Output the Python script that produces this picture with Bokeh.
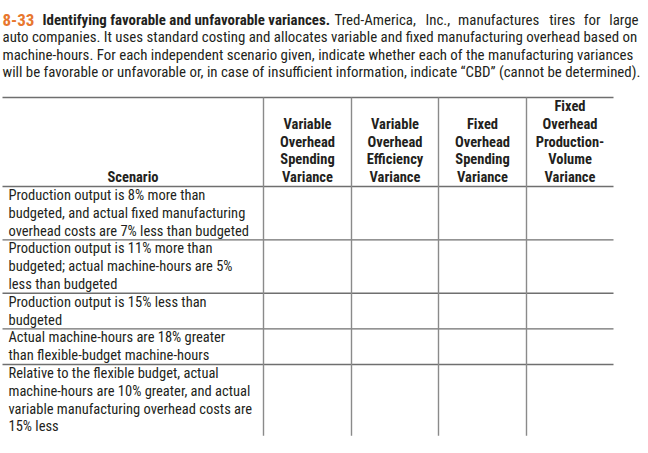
from bokeh.plotting import figure
from bokeh.models import ColumnDataSource, Range1d
from bokeh.core.properties import value
from bokeh.embed import file_html
from bokeh.resources import INLINE

# ---------------- data ----------------
problem_number = "8-33"
problem_title = "Identifying favorable and unfavorable variances."
title_rest_first = "Tred-America, Inc., manufactures tires for large"
title_lines = [
    "auto companies. It uses standard costing and allocates variable and fixed manufacturing overhead based on",
    "machine-hours. For each independent scenario given, indicate whether each of the manufacturing variances",
    "will be favorable or unfavorable or, in case of insufficient information, indicate \u201cCBD\u201d (cannot be determined).",
]
scenario_header = "Scenario"
column_headers = [
    ["Variable", "Overhead", "Spending", "Variance"],
    ["Variable", "Overhead", "Efficiency", "Variance"],
    ["Fixed", "Overhead", "Spending", "Variance"],
    ["Fixed", "Overhead", "Production-", "Volume", "Variance"],
]
scenarios = [
    ["Production output is 8% more than",
     "budgeted, and actual fixed manufacturing",
     "overhead costs are 7% less than budgeted"],
    ["Production output is 11% more than",
     "budgeted; actual machine-hours are 5%",
     "less than budgeted"],
    ["Production output is 15% less than",
     "budgeted"],
    ["Actual machine-hours are 18% greater",
     "than flexible-budget machine-hours"],
    ["Relative to the flexible budget, actual",
     "machine-hours are 10% greater, and actual",
     "variable manufacturing overhead costs are",
     "15% less"],
]

# ---------------- layout ----------------
FONT = "'Roboto Condensed', 'DejaVu Sans Condensed', sans-serif"
INK = "#231f20"
ORANGE = "#e8772e"
LINE_H = 17.8
TITLE_H = 17.5
TITLE_SIZE = "14.9px"
TABLE_LEFT = 2
COL_EDGES = [263, 351, 438, 526, 613]
TABLE_TOP = 97
HEADER_LINES = max(len(h) for h in column_headers)

# approximate relative glyph advances (used only to justify the first title line)
ADV = {"T": 1224, "r": 693, "e": 1082, "d": 1150, "-": 552, "A": 1336, "m": 1792,
       "i": 497, "c": 1071, "a": 1114, ",": 393, "I": 557, "n": 1130, ".": 539,
       "u": 1128, "f": 711, "t": 669, "s": 1056, "o": 1166, "l": 497, "g": 1149, " ": 507}
NATURAL_WIDTH_PX = 278.0   # rendered width of the first-line remainder at TITLE_SIZE
JUST_LEFT, JUST_RIGHT = 334, 638

p = figure(width=648, height=453, x_range=Range1d(0, 648), y_range=Range1d(453, 0),
           x_axis_type=None, y_axis_type=None, output_backend="svg",
           toolbar_location=None, min_border=0)
p.grid.visible = False
p.outline_line_color = None
p.background_fill_color = "white"

# title paragraph
title_y0 = 19
p.text(x=[2], y=[title_y0], text=[problem_number], text_font=value(FONT),
       text_font_size=value("17px"), text_font_style="bold", text_color=ORANGE,
       text_baseline="middle", text_align="left")
p.text(x=[42], y=[title_y0], text=[problem_title], text_font=value(FONT),
       text_font_size=value(TITLE_SIZE), text_font_style="bold", text_color=INK,
       text_baseline="middle", text_align="left")

# justified remainder of first line
words = title_rest_first.split(" ")
total_units = sum(ADV.get(ch, 1000) for ch in title_rest_first)
k = NATURAL_WIDTH_PX / total_units
wwidths = [sum(ADV.get(ch, 1000) for ch in w) * k for w in words]
gap = (JUST_RIGHT - JUST_LEFT - sum(wwidths)) / (len(words) - 1)
wx = []
cur = JUST_LEFT
for w in wwidths:
    wx.append(cur)
    cur += w + gap
p.text(x=wx[:-1], y=[title_y0] * (len(words) - 1), text=words[:-1], text_font=value(FONT),
       text_font_size=value(TITLE_SIZE), text_color=INK,
       text_baseline="middle", text_align="left")
p.text(x=[JUST_RIGHT], y=[title_y0], text=[words[-1]], text_font=value(FONT),
       text_font_size=value(TITLE_SIZE), text_color=INK,
       text_baseline="middle", text_align="right")

ty = [title_y0 + TITLE_H * (i + 1) for i in range(len(title_lines))]
p.text(x=[2] * len(title_lines), y=ty, text=title_lines, text_font=value(FONT),
       text_font_size=value(TITLE_SIZE), text_color=INK,
       text_baseline="middle", text_align="left")

# header texts
header_bottom = TABLE_TOP + HEADER_LINES * LINE_H
hx, hy, ht = [], [], []
for ci, lines in enumerate(column_headers):
    cx = (COL_EDGES[ci] + COL_EDGES[ci + 1]) / 2
    n = len(lines)
    for kk, t in enumerate(lines):
        hx.append(cx)
        hy.append(header_bottom - LINE_H / 2 - LINE_H * (n - 1 - kk))
        ht.append(t)
hx.append((TABLE_LEFT + COL_EDGES[0]) / 2)
hy.append(header_bottom - LINE_H / 2)
ht.append(scenario_header)
p.text(x="x", y="y", text="t", source=ColumnDataSource(dict(x=hx, y=hy, t=ht)),
       text_font=value(FONT), text_font_size=value("14.5px"), text_font_style="bold",
       text_color=INK, text_baseline="middle", text_align="center")

# scenario rows
row_tops = [header_bottom]
for s in scenarios:
    row_tops.append(row_tops[-1] + LINE_H * len(s))
sx, sy, st = [], [], []
for ri, lines in enumerate(scenarios):
    for kk, t in enumerate(lines):
        sx.append(8)
        sy.append(row_tops[ri] + LINE_H / 2 + LINE_H * kk)
        st.append(t)
p.text(x="x", y="y", text="t", source=ColumnDataSource(dict(x=sx, y=sy, t=st)),
       text_font=value(FONT), text_font_size=value("14.5px"),
       text_color=INK, text_baseline="middle", text_align="left")

# grid lines
hlines = [TABLE_TOP] + row_tops[:-1]
p.segment(x0=[TABLE_LEFT] * len(hlines), y0=hlines, x1=[COL_EDGES[-1]] * len(hlines), y1=hlines,
          line_color="#6f6f6f", line_width=1.4)
vl = COL_EDGES[:-1]
p.segment(x0=vl, y0=[TABLE_TOP] * len(vl), x1=vl, y1=[row_tops[-1]] * len(vl),
          line_color="#8a8a8a", line_width=1.4)

open("out.html", "w").write(file_html(p, INLINE))
